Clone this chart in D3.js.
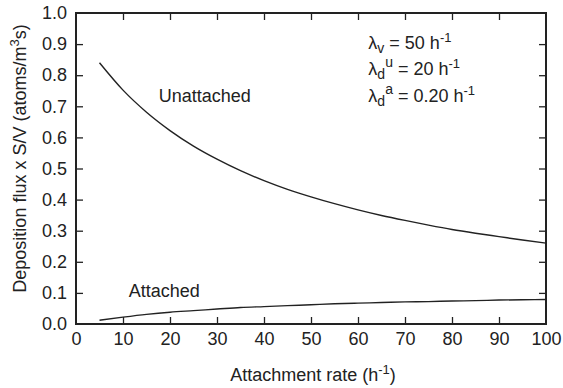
<!DOCTYPE html>
<html>
<head>
<meta charset="utf-8">
<script src="https://cdn.jsdelivr.net/npm/d3@7"></script>
<style>
  body { margin: 0; background: #fff; }
  text { font-family: "Liberation Sans", Arial, sans-serif; fill: #222; }
</style>
</head>
<body>
<div id="chart-area"></div>
<script>
// values
const rates = [5, 10, 15, 20, 25, 30, 35, 40, 45, 50, 55, 60, 65, 70, 75, 80, 85, 90, 95, 100]
const unattached = [0.840, 0.752, 0.681, 0.622, 0.572, 0.530, 0.493, 0.461, 0.433, 0.409,
                    0.387, 0.367, 0.349, 0.333, 0.318, 0.304, 0.292, 0.281, 0.270, 0.260]
const attached = [0.012, 0.022, 0.031, 0.038, 0.043, 0.048, 0.053, 0.056, 0.059, 0.062,
                  0.065, 0.067, 0.069, 0.071, 0.072, 0.074, 0.075, 0.077, 0.078, 0.079]
const xTicks = [0, 10, 20, 30, 40, 50, 60, 70, 80, 90, 100]
const yTicks = [0, 0.1, 0.2, 0.3, 0.4, 0.5, 0.6, 0.7, 0.8, 0.9, 1.0]

const MARGIN = { LEFT: 76, RIGHT: 17, TOP: 13, BOTTOM: 64 }
const W = 563, H = 388
const WIDTH = W - MARGIN.LEFT - MARGIN.RIGHT
const HEIGHT = H - MARGIN.TOP - MARGIN.BOTTOM

const svg = d3.select("#chart-area").append("svg")
    .attr("width", W)
    .attr("height", H)

const g = svg.append("g")
    .attr("transform", `translate(${MARGIN.LEFT}, ${MARGIN.TOP})`)

const x = d3.scaleLinear().domain([0, 100]).range([0, WIDTH])
const y = d3.scaleLinear().domain([0, 1]).range([HEIGHT, 0])

const TICK = 7
const FS = 18

// axes (ticks inward on all four sides)
const axBottom = g.append("g").attr("transform", `translate(0, ${HEIGHT})`)
    .call(d3.axisBottom(x).tickValues(xTicks).tickSizeInner(-TICK).tickSizeOuter(0).tickPadding(8))
const axTop = g.append("g")
    .call(d3.axisTop(x).tickValues(xTicks).tickSizeInner(-TICK).tickSizeOuter(0).tickFormat(""))
const axLeft = g.append("g")
    .call(d3.axisLeft(y).tickValues(yTicks).tickSizeInner(-TICK).tickSizeOuter(0).tickPadding(9)
        .tickFormat(d3.format(".1f")))
const axRight = g.append("g").attr("transform", `translate(${WIDTH}, 0)`)
    .call(d3.axisRight(y).tickValues(yTicks).tickSizeInner(-TICK).tickSizeOuter(0).tickFormat(""))

;[axBottom, axTop, axLeft, axRight].forEach(a => {
    a.select(".domain").remove()
    a.selectAll(".tick line").attr("stroke", "#222").attr("stroke-width", 1.3)
    a.selectAll(".tick text").attr("font-size", FS).attr("fill", "#222")
        .attr("font-family", "Liberation Sans, Arial, sans-serif")
})
// corner ticks would sit on the frame
axBottom.selectAll(".tick").filter(d => d === 0 || d === 100).select("line").remove()
axTop.selectAll(".tick").filter(d => d === 0 || d === 100).select("line").remove()
axLeft.selectAll(".tick").filter(d => d === 0 || d === 1).select("line").remove()
axRight.selectAll(".tick").filter(d => d === 0 || d === 1).select("line").remove()

// frame
g.append("rect")
    .attr("x", 0).attr("y", 0)
    .attr("width", WIDTH).attr("height", HEIGHT)
    .attr("fill", "none").attr("stroke", "#222").attr("stroke-width", 2)

// curves
const line = d3.line().curve(d3.curveMonotoneX)
const series = [unattached, attached]
g.selectAll("path.curve")
    .data(series)
    .enter().append("path")
    .attr("class", "curve")
    .attr("d", vals => line(vals.map((v, i) => [x(rates[i]), y(v)])))
    .attr("fill", "none")
    .attr("stroke", "#222")
    .attr("stroke-width", 1.4)

// curve labels
g.append("text").attr("x", x(17.6)).attr("y", y(0.715)).attr("font-size", FS).text("Unattached")
g.append("text").attr("x", x(11.2)).attr("y", y(0.088)).attr("font-size", FS).text("Attached")

// parameter block
const ann = g.append("text").attr("font-size", FS)
function lam(t, yy, sub, sup, rest) {
    t.append("tspan").attr("x", x(62.2)).attr("y", yy).text("λ")
    t.append("tspan").attr("dy", 4).attr("font-size", 14).text(sub)
    if (sup) {
        t.append("tspan").attr("dy", -12).attr("font-size", 14).text(sup)
        t.append("tspan").attr("dy", 8).text(rest)
    } else {
        t.append("tspan").attr("dy", -4).text(rest)
    }
    t.append("tspan").attr("dy", -7).attr("font-size", 13).text("-1")
}
lam(ann, y(0.885), "v", null, " = 50 h")
lam(ann, y(0.80), "d", "u", " = 20 h")
lam(ann, y(0.715), "d", "a", " = 0.20 h")

// axis titles
const xt = g.append("text")
    .attr("x", WIDTH / 2 + 2)
    .attr("y", HEIGHT + 57)
    .attr("font-size", 18)
    .attr("text-anchor", "middle")
xt.append("tspan").text("Attachment rate (h")
xt.append("tspan").attr("dy", -7).attr("font-size", 13).text("-1")
xt.append("tspan").attr("dy", 7).text(")")

const yt = g.append("text")
    .attr("transform", `translate(${-MARGIN.LEFT + 26}, ${HEIGHT / 2 - 10}) rotate(-90)`)
    .attr("font-size", 18)
    .attr("text-anchor", "middle")
yt.append("tspan").text("Deposition flux x S/V (atoms/m")
yt.append("tspan").attr("dy", -7).attr("font-size", 13).text("3")
yt.append("tspan").attr("dy", 7).text("s)")
</script>
</body>
</html>
